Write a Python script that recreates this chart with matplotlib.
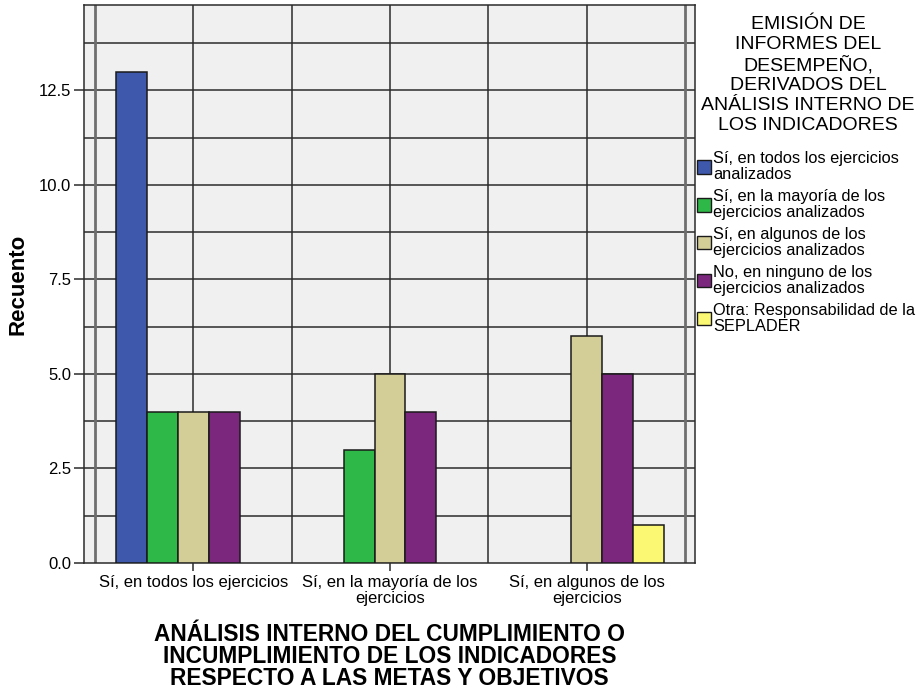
import numpy as np
import matplotlib.pyplot as plt
from matplotlib.patches import Patch

plt.rcParams['font.family'] = ['Liberation Sans', 'DejaVu Sans']

# categorías del eje X y series (recuentos)
categorias = ["Sí, en todos los ejercicios",
              "Sí, en la mayoría de los\nejercicios",
              "Sí, en algunos de los\nejercicios"]
series = ["Sí, en todos los ejercicios\nanalizados",
          "Sí, en la mayoría de los\nejercicios analizados",
          "Sí, en algunos de los\nejercicios analizados",
          "No, en ninguno de los\nejercicios analizados",
          "Otra: Responsabilidad de la\nSEPLADER"]
todos = [13, 0, 0]
mayoria = [4, 3, 0]
algunos = [4, 5, 6]
ninguno = [4, 4, 5]
otra = [0, 0, 1]
valores = [todos, mayoria, algunos, ninguno, otra]
colores = ["#3e58ac", "#2eb848", "#d3ce97", "#7b277d", "#fbf873"]

fig = plt.figure(figsize=(9.17, 6.92), dpi=100)
ax = fig.add_axes([84 / 917, 1 - 563 / 692, (695 - 84) / 917, (563 - 5) / 692])
ax.set_facecolor("#f0f0f0")

x = np.arange(len(categorias))
ancho = 0.157
for i, (vals, col) in enumerate(zip(valores, colores)):
    pos = x + (i - 2) * ancho
    for p, v in zip(pos, vals):
        if v > 0:
            ax.bar(p, v, width=ancho, color=col, edgecolor="#1a1a1a", linewidth=1.1, zorder=3)

# rejilla
for yv in np.arange(1.25, 14.0, 1.25):
    ax.axhline(yv, color="#2b2b2b", linewidth=1.1, zorder=1)
for xv in [0, 0.5, 1, 1.5, 2]:
    ax.axvline(xv, color="#2b2b2b", linewidth=1.1, zorder=1)
for xv in [-0.5, 2.5]:
    ax.axvline(xv, color="#6e6e6e", linewidth=2.0, zorder=1)

ax.set_xlim(-0.555, 2.55)
ax.set_ylim(0, 14.76)
ax.set_yticks(np.arange(0, 13, 2.5))
ax.set_yticklabels([f"{v:.1f}" for v in np.arange(0, 13, 2.5)], fontsize=12)
ax.set_xticks(x)
ax.set_xticklabels(categorias, fontsize=12, linespacing=1.05)
ax.tick_params(axis="y", length=7, width=1.1, color="#2b2b2b", pad=2)
ax.tick_params(axis="x", length=6, width=1.1, color="#2b2b2b", pad=3)
for s in ax.spines.values():
    s.set_color("#2b2b2b")
    s.set_linewidth(1.1)

ax.set_ylabel("Recuento", fontsize=16, fontweight="bold", labelpad=8)
ax.set_xlabel("ANÁLISIS INTERNO DEL CUMPLIMIENTO O\nINCUMPLIMIENTO DE LOS INDICADORES\n"
              "RESPECTO A LAS METAS Y OBJETIVOS",
              fontsize=16.4, fontweight="bold", labelpad=12, linespacing=0.95)

# título de la leyenda
fig.text(808 / 917, 1 - 16 / 692,
         "EMISIÓN DE\nINFORMES DEL\nDESEMPEÑO,\nDERIVADOS DEL\nANÁLISIS INTERNO DE\nLOS INDICADORES",
         ha="center", va="top", multialignment="center", fontsize=14, linespacing=1.22)

handles = [Patch(facecolor=c, edgecolor="#1a1a1a", linewidth=1.0) for c in colores]
leg = fig.legend(handles, series, loc="upper left", bbox_to_anchor=(695 / 917, 1 - 149 / 692),
                 fontsize=11.8, frameon=False, handlelength=0.85,
                 handleheight=0.9, handletextpad=0.15, labelspacing=0.4, borderpad=0.1,
                 borderaxespad=0)
for t in leg.get_texts():
    t.set_linespacing(1.12)

fig.savefig("out.png", dpi=100)
